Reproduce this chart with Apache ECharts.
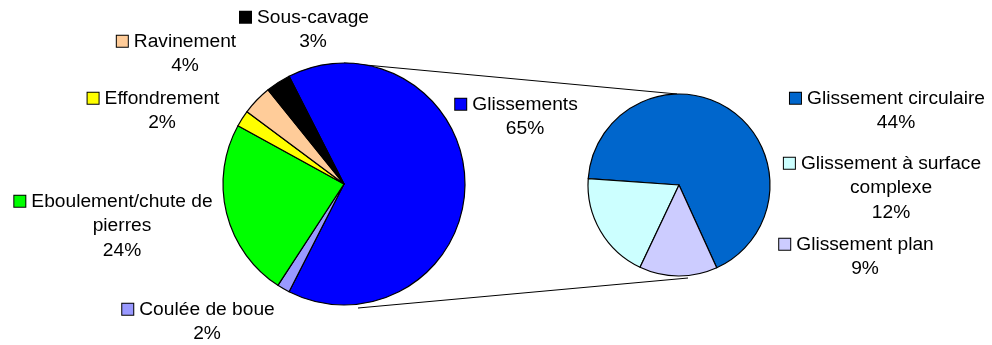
<!DOCTYPE html>
<html><head><meta charset="utf-8">
<script src="https://cdn.jsdelivr.net/npm/echarts@6/dist/echarts.min.js"></script>
<style>html,body{margin:0;padding:0;background:#fff}#c{width:992px;height:345px}</style>
</head><body><div id="c"></div>
<script>
// ---- data ----
const mainCategories = ['Glissements', 'Coulée de boue', 'Eboulement/chute de pierres', 'Effondrement', 'Ravinement', 'Sous-cavage'];
const mainValues = [65.0, 1.7, 23.8, 2.2, 4.0, 3.3];
const mainLabelText = ['Glissements', 'Coulée de boue', 'Eboulement/chute de\npierres', 'Effondrement', 'Ravinement', 'Sous-cavage'];
const subCategories = ['Glissement circulaire', 'Glissement à surface complexe', 'Glissement plan'];
const subValues = [43.6, 12.4, 9.0];
const subLabelText = ['Glissement circulaire', 'Glissement à surface\ncomplexe', 'Glissement plan'];

// ---- style ----
const mainColors = ['#0000FF', '#9999FF', '#00FF00', '#FFFF00', '#FFCC99', '#000000'];
const subColors = ['#0066CC', '#CCFFFF', '#CCCCFF'];
const FONT = '"Liberation Sans", Arial, sans-serif';
const FS = 19.2, LH = 24.5;
const mainLabelPos = [[525, 92], [207, 297], [122, 189], [162, 86], [185, 29], [313, 5]];
const subLabelPos = [[896, 86], [891, 151], [865, 232]];

function rich(colors) {
  const r = {
    t: { fontSize: FS, lineHeight: LH, color: '#000', fontFamily: FONT },
    gap: { width: 6, height: 11, lineHeight: LH },
    pad: { width: 17, height: 11, lineHeight: LH }
  };
  colors.forEach((c, i) => {
    r['sq' + i] = { width: 11, height: 11, backgroundColor: c, borderColor: '#000', borderWidth: 1, lineHeight: LH };
  });
  return r;
}
function fmt(texts) {
  return p => {
    const L = texts[p.dataIndex].split('\n');
    let s = '{sq' + p.dataIndex + '|}{gap|}{t|' + L[0] + '}{pad|}';
    for (let k = 1; k < L.length; k++) s += '\n{t|' + L[k] + '}';
    s += '\n{t|' + Math.round(p.value) + '%}';
    return s;
  };
}
function pieSeries(cats, vals, colors, texts, pos, center, radius, startAngle, clockwise) {
  return {
    type: 'pie', center: center, radius: radius, startAngle: startAngle, clockwise: clockwise,
    animation: false, avoidLabelOverlap: false, minShowLabelAngle: 0,
    data: cats.map((n, i) => ({ name: n, value: vals[i], itemStyle: { color: colors[i] } })),
    itemStyle: { borderColor: '#000', borderWidth: 1.2 },
    label: { show: true, position: 'outside', formatter: fmt(texts), rich: rich(colors),
      fontSize: FS, lineHeight: LH, fontFamily: FONT, color: '#000' },
    labelLine: { show: false },
    labelLayout: p => ({ x: pos[p.dataIndex][0], y: pos[p.dataIndex][1], align: 'center', verticalAlign: 'top' }),
    emphasis: { disabled: true }
  };
}

const chart = echarts.init(document.getElementById('c'), null, { renderer: 'canvas' });
chart.setOption({
  backgroundColor: '#fff',
  animation: false,
  series: [
    pieSeries(mainCategories, mainValues, mainColors, mainLabelText, mainLabelPos, [344, 184], 121, 117, true),
    pieSeries(subCategories, subValues, subColors, subLabelText, subLabelPos, [679, 185], 91, 294.5, false)
  ]
});

// connector lines from the computed pie layouts
const lm = chart.getModel().getSeriesByIndex(0).getData().getItemLayout(0);
const ls = chart.getModel().getSeriesByIndex(1).getData().getItemLayout(0);
chart.setOption({
  graphic: [
    { type: 'line', shape: { x1: lm.cx, y1: lm.cy - lm.r, x2: ls.cx - 2, y2: ls.cy - ls.r }, style: { stroke: '#000', lineWidth: 1 }, z: 0 },
    { type: 'line', shape: { x1: lm.cx + 14, y1: lm.cy + lm.r + 3, x2: ls.cx + 9, y2: ls.cy + ls.r + 2 }, style: { stroke: '#000', lineWidth: 1 }, z: 0 }
  ]
});
</script>
</body></html>
